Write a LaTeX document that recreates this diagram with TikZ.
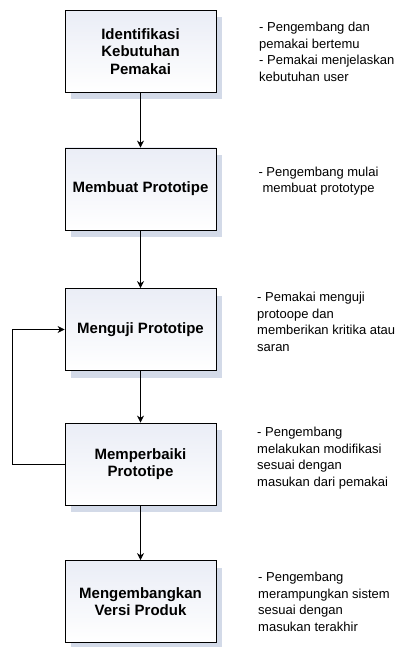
\documentclass[tikz,border=0pt]{standalone}
\usepackage{fontspec}
\setmainfont{Liberation Sans}
\usetikzlibrary{arrows.meta}
\definecolor{shadowc}{HTML}{D3DAE8}
\definecolor{boxtop}{HTML}{EAEDF6}
\begin{document}
\begin{tikzpicture}[x=1pt,y=-1pt,
  boxsize/.style={minimum width=151pt, minimum height=82pt, inner sep=2pt},
  stepbox/.style={boxsize, draw=black, line width=0.8pt,
    top color=boxtop, bottom color=white, align=center,
    font=\fontsize{15pt}{17.5pt}\selectfont\bfseries},
  shadowbox/.style={boxsize, fill=shadowc, draw=none},
  note/.style={align=left, inner sep=0pt, font=\fontsize{13pt}{16.5pt}\selectfont},
  arr/.style={draw=black, line width=0.8pt, -{Stealth[length=7pt,width=7pt]}}]
\fill[white] (0,0) rectangle (404,647);
\useasboundingbox (0,0) rectangle (404,647);
\foreach \yy [count=\i] in {51.5,189,329.5,464,601.5}
  \node[shadowbox] (s\i) at (146.5,\yy+7) {};
\node[stepbox] (b1) at (140.5,51.5) {Identifikasi\\Kebutuhan\\Pemakai};
\node[stepbox] (b2) at (140.5,189) {Membuat Prototipe};
\node[stepbox] (b3) at (140.5,329.5) {Menguji Prototipe};
\node[stepbox] (b4) at (140.5,464) {Memperbaiki\\Prototipe};
\node[stepbox] (b5) at (140.5,601.5) {Mengembangkan\\Versi Produk};
\draw[arr] (b1) -- (b2);
\draw[arr] (b2) -- (b3);
\draw[arr] (b3) -- (b4);
\draw[arr] (b4) -- (b5);
\coordinate (lp) at (12,464);
\draw[arr] (b4.west) -- (lp) |- (b3.west);
\node[note, anchor=west] (t1) at (259,52) {- Pengembang dan\\pemakai bertemu\\- Pemakai menjelaskan\\kebutuhan user};
\node[note, align=center] (t2) at (318.5,181) {- Pengembang mulai\\membuat prototype};
\node[note, anchor=west] (t3) at (257,322) {- Pemakai menguji\\protoope dan\\memberikan kritika atau\\saran};
\node[note, anchor=west] (t4) at (257,458) {- Pengembang\\melakukan modifikasi\\sesuai dengan\\masukan dari pemakai};
\node[note, anchor=west] (t5) at (258,602) {- Pengembang\\merampungkan sistem\\sesuai dengan\\masukan terakhir};
\end{tikzpicture}
\end{document}
